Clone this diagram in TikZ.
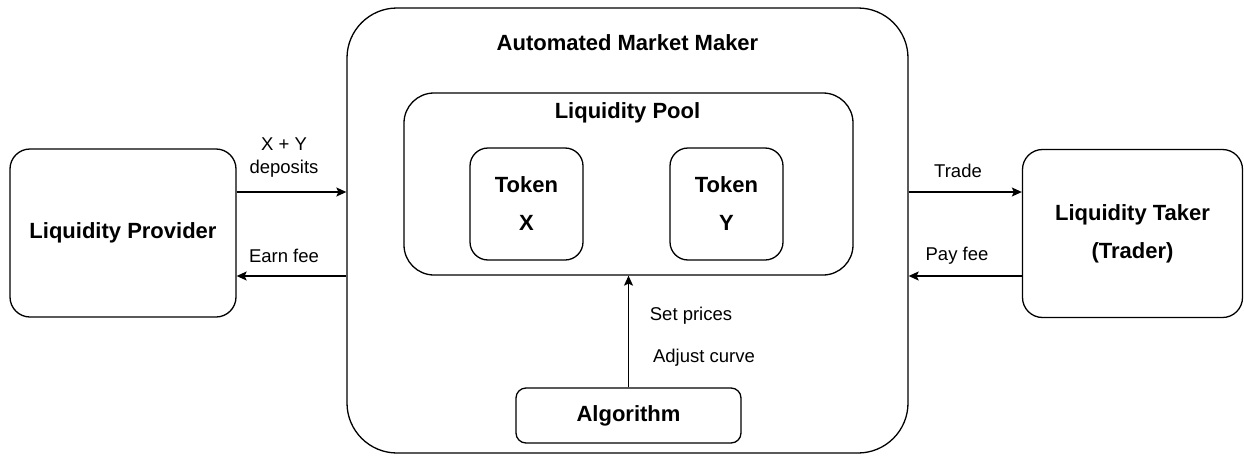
\documentclass[tikz,border=0pt]{standalone}
\usepackage{fontspec}
\setmainfont{Liberation Sans}
\usetikzlibrary{arrows.meta}
\begin{document}
\begin{tikzpicture}[x=1pt,y=-1pt,
  line width=1.3pt,
  box/.style={draw, rectangle, inner sep=0pt, align=center},
  bold/.style={font=\fontsize{22}{38}\selectfont\bfseries, align=center},
  lbl/.style={font=\fontsize{18.5}{22}\selectfont, inner sep=0pt},
  flow/.style={-{Stealth[length=10pt,width=9pt,inset=2pt]}}]
\useasboundingbox (0,0) rectangle (1244,455);

% actors on either side
\node[box, rounded corners=20pt, minimum width=226pt, minimum height=168pt, bold]
  (lp) at (123,233) {Liquidity Provider};
\node[box, rounded corners=20pt, minimum width=220pt, minimum height=168pt, bold]
  (lt) at (1132.5,233.5) {Liquidity Taker\\(Trader)};

% automated market maker with its pool and algorithm
\node[box, rounded corners=50pt, minimum width=561pt, minimum height=445pt]
  (amm) at (627.5,230.5) {};
\node[bold] (ammtitle) at (627.5,43) {Automated Market Maker};

\node[box, rounded corners=30pt, minimum width=449pt, minimum height=182pt]
  (pool) at (628.5,184) {};
\node[bold] (pooltitle) at (627.5,113) {Liquidity Pool};

\node[box, rounded corners=18pt, minimum width=113pt, minimum height=112pt, bold]
  (tx) at (526.5,204) {Token\\X};
\node[box, rounded corners=18pt, minimum width=113pt, minimum height=112pt, bold]
  (ty) at (726.5,204) {Token\\Y};

\node[box, rounded corners=10pt, minimum width=225pt, minimum height=55pt, bold]
  (algo) at (628.5,415.5) {Algorithm};

% flows between the parties
\coordinate (ammL1) at (amm.west |- 0,192);
\coordinate (ammL2) at (amm.west |- 0,276);
\coordinate (ammR1) at (amm.east |- 0,192);
\coordinate (ammR2) at (amm.east |- 0,276);

\draw[flow] (lp.east |- ammL1) -- (ammL1);
\draw[flow] (ammL2) -- (lp.east |- ammL2);
\draw[flow] (ammR1) -- (lt.west |- ammR1);
\draw[flow] (lt.west |- ammR2) -- (ammR2);
\draw[flow] (algo.north) -- (pool.south);

% flow labels
\node[lbl, align=center] (dep) at (284,158) {X + Y\\[1pt]deposits};
\node[lbl] (earn) at (284,256) {Earn fee};
\node[lbl] (trade) at (958,171) {Trade};
\node[lbl] (payfee) at (957,256) {Pay fee};
\node[lbl] (setp) at (691,316) {Set prices};
\node[lbl] (adj) at (704,358) {Adjust curve};
\end{tikzpicture}
\end{document}
